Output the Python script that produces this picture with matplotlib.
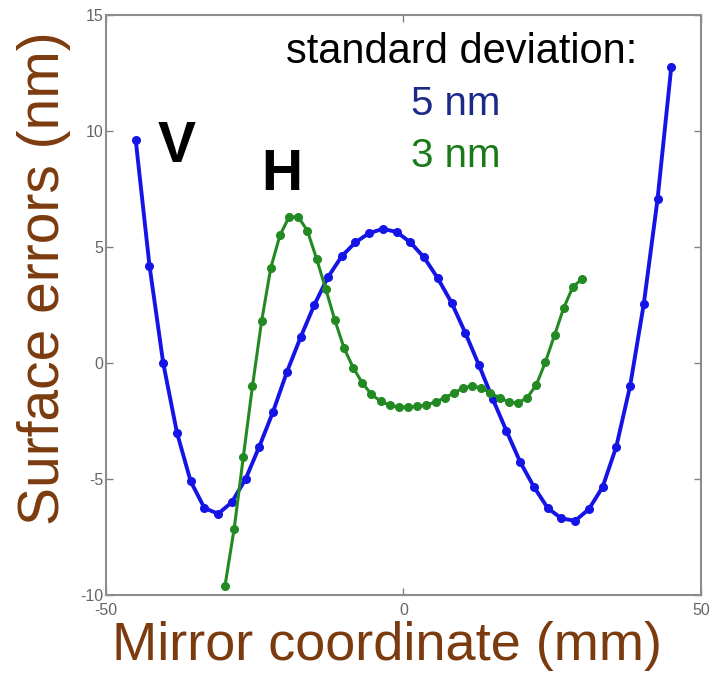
import numpy as np
import matplotlib
matplotlib.use('Agg')
import matplotlib.pyplot as plt

plt.rcParams['font.family'] = ['Liberation Sans', 'DejaVu Sans']
plt.rcParams['axes.unicode_minus'] = False

# V profile (blue), 40 points from -45 to 45 mm
v_x = np.linspace(-45, 45, 40)
v_err = [9.6, 4.2, 0.0, -3.0, -5.1, -6.25, -6.5, -6.0, -5.0, -3.6,
         -2.1, -0.4, 1.1, 2.5, 3.7, 4.6, 5.2, 5.6, 5.78, 5.65,
         5.2, 4.55, 3.65, 2.6, 1.3, -0.1, -1.55, -2.93, -4.27, -5.34,
         -6.25, -6.7, -6.8, -6.3, -5.35, -3.6, -1.0, 2.55, 7.05, 12.75]

# H profile (green), 40 points from -30 to 30 mm
h_x = np.linspace(-30, 30, 40)
h_err = [-9.6, -7.15, -4.05, -1.0, 1.8, 4.1, 5.5, 6.3, 6.3, 5.7,
         4.5, 3.2, 1.85, 0.65, -0.2, -0.86, -1.35, -1.65, -1.82, -1.9,
         -1.9, -1.87, -1.81, -1.68, -1.5, -1.29, -1.08, -0.99, -1.08, -1.29,
         -1.5, -1.68, -1.72, -1.5, -0.95, 0.04, 1.2, 2.37, 3.28, 3.62]

brown = '#7b3b0e'

fig = plt.figure(figsize=(7.25, 6.73), dpi=100)
ax = fig.add_axes([0.1462, 0.1159, 0.8207, 0.8618])

ax.plot(v_x, v_err, color='#1414e6', lw=2.8, marker='o', ms=5.5)
ax.plot(h_x, h_err, color='#238a23', lw=2.2, marker='o', ms=5.5)

ax.set_xlim(-50, 50)
ax.set_ylim(-10, 15)
ax.set_xticks([-50, 0, 50])
ax.set_yticks([-10, -5, 0, 5, 10, 15])
ax.tick_params(direction='in', length=5, width=1, colors='#808080',
               labelcolor='#666666', labelsize=11.5, pad=2,
               top=True, right=True)
ax.tick_params(axis='x', pad=6)
for s in ax.spines.values():
    s.set_color('#8c8c8c')
    s.set_linewidth(1.5)

ax.set_xlabel('Mirror coordinate (mm)', fontsize=39, color=brown)
ax.xaxis.set_label_coords(0.472, -0.045, transform=ax.transAxes)
ax.xaxis.label.set_va('top')
ax.set_ylabel('Surface errors (nm)', fontsize=41, color=brown)
ax.yaxis.set_label_coords(-0.105, 0.547, transform=ax.transAxes)
ax.yaxis.label.set_va('center')

# annotations
fig.text(0.637, 0.906, 'standard deviation:', fontsize=30, color='black',
         ha='center', va='baseline')
fig.text(0.628, 0.829, '5 nm', fontsize=29, color='#1b2a88',
         ha='center', va='baseline')
fig.text(0.628, 0.752, '3 nm', fontsize=29, color='#1a7a1a',
         ha='center', va='baseline')
fig.text(0.244, 0.759, 'V', fontsize=41, fontweight='bold', color='black',
         ha='center', va='baseline')
fig.text(0.389, 0.7177, 'H', fontsize=41, fontweight='bold', color='black',
         ha='center', va='baseline')

fig.savefig('out.png', dpi=100)
